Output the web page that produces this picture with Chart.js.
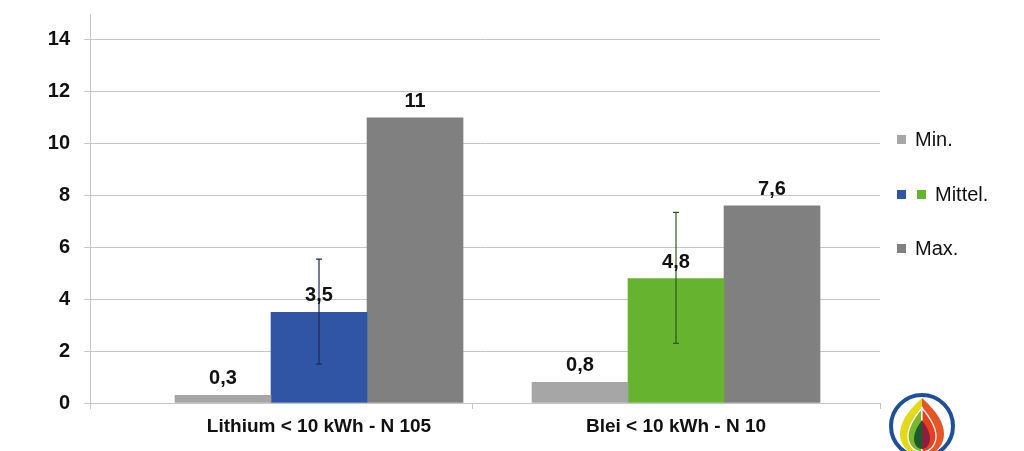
<!DOCTYPE html>
<html>
<head>
<meta charset="utf-8">
<script src="https://cdn.jsdelivr.net/npm/chart.js@4"></script>
<style>
  html, body { margin: 0; padding: 0; background: #fff; }
  #wrap { position: relative; width: 1024px; height: 451px; overflow: hidden; }
  #chart { position: absolute; left: 0; top: 0; }
  .lg { position: absolute; height: 24px; font: 20px "Liberation Sans", Arial, sans-serif; color: #111; display: flex; align-items: center; }
  .lg i { display: inline-block; width: 9px; height: 9px; margin-right: 9px; }
  .lg i.first { margin-right: 11px; }
  #logo { position: absolute; left: 888px; top: 392px; }
</style>
</head>
<body>
<div id="wrap">
  <canvas id="chart" width="1024" height="451"></canvas>
  <div class="lg" style="left:897px;top:127px"><i style="background:#A6A6A6"></i>Min.</div>
  <div class="lg" style="left:897px;top:182px"><i class="first" style="background:#2F55A4"></i><i style="background:#65B32E"></i>Mittel.</div>
  <div class="lg" style="left:897px;top:236px"><i style="background:#808080"></i>Max.</div>
  <svg id="logo" width="68" height="68" viewBox="0 0 68 68">
    <circle cx="34" cy="34" r="31" fill="#fff" stroke="#1F4E9A" stroke-width="4"/>
    <path d="M34 6 C18 20 12 32 12 42 C12 54 22 64 34 64 Z" fill="#E4D81C"/>
    <path d="M34 6 C50 20 56 32 56 42 C56 54 46 64 34 64 Z" fill="#E2572A"/>
    <path d="M34 16 C24 28 20 36 20 44 C20 54 27 60 34 60 Z" fill="#7BB630" stroke="#fff" stroke-width="1.2"/>
    <path d="M34 16 C44 28 48 36 48 44 C48 54 41 60 34 60 Z" fill="#E8401E" stroke="#fff" stroke-width="1.2"/>
    <path d="M34 28 C28 36 26 42 26 47 C26 53 30 57 34 57 Z" fill="#1E5B2A"/>
    <path d="M34 28 C40 36 42 42 42 47 C42 53 38 57 34 57 Z" fill="#8A2040"/>
  </svg>
</div>
<script>
const categories = ['Lithium < 10 kWh - N 105', 'Blei < 10 kWh - N 10'];
const catPositions = [1, 2];
const minValues = [0.3, 0.8];
const meanValues = [3.5, 4.8];
const maxValues = [11, 7.6];
const meanErrLow = [1.5, 2.3];
const meanErrHigh = [5.55, 7.35];
const valueLabels = [['0,3', '0,8'], ['3,5', '4,8'], ['11', '7,6']];
const yTicks = [0, 2, 4, 6, 8, 10, 12, 14];

// x extent and the divider mark between the two groups
const X_MIN = 0.3585, X_MAX = 2.5714, X_DIV = 1.4286;

const FONT = '"Liberation Sans", Arial, sans-serif';
const GRID = '#C6C6C6';

const pts = vals => vals.map((v, i) => ({ x: catPositions[i], y: v }));

// error bars on the "Mittel." series
const errorBars = {
  id: 'errorBars',
  afterDatasetsDraw(chart) {
    const { ctx } = chart;
    const y = chart.scales.y;
    const meta = chart.getDatasetMeta(1);
    const colors = ['#1B2A55', '#2E5A1A'];
    meta.data.forEach((bar, i) => {
      const yl = y.getPixelForValue(meanErrLow[i]);
      const yh = y.getPixelForValue(meanErrHigh[i]);
      ctx.save();
      ctx.strokeStyle = colors[i];
      ctx.lineWidth = 1.2;
      ctx.beginPath();
      ctx.moveTo(bar.x, yl); ctx.lineTo(bar.x, yh);
      ctx.moveTo(bar.x - 3, yl); ctx.lineTo(bar.x + 3, yl);
      ctx.moveTo(bar.x - 3, yh); ctx.lineTo(bar.x + 3, yh);
      ctx.stroke();
      ctx.restore();
    });
  }
};

// value labels above bars
const barLabels = {
  id: 'barLabels',
  afterDatasetsDraw(chart) {
    const { ctx } = chart;
    chart.data.datasets.forEach((ds, di) => {
      chart.getDatasetMeta(di).data.forEach((bar, i) => {
        ctx.save();
        ctx.font = 'bold 20px ' + FONT;
        ctx.fillStyle = '#111';
        ctx.textAlign = 'center';
        ctx.textBaseline = 'alphabetic';
        ctx.fillText(valueLabels[di][i], bar.x, bar.y - 11);
        ctx.restore();
      });
    });
  }
};

new Chart(document.getElementById('chart'), {
  type: 'bar',
  data: {
    datasets: [
      { label: 'Min.', data: pts(minValues), backgroundColor: '#A6A6A6' },
      { label: 'Mittel.', data: pts(meanValues), backgroundColor: ['#2F55A4', '#65B32E'] },
      { label: 'Max.', data: pts(maxValues), backgroundColor: '#808080' }
    ]
  },
  options: {
    responsive: false,
    animation: false,
    layout: { padding: { top: 14, right: 144, left: 0, bottom: 0 } },
    datasets: { bar: { barThickness: 96 } },
    plugins: { legend: { display: false }, tooltip: { enabled: false } },
    scales: {
      x: {
        type: 'linear',
        offset: false,
        min: X_MIN, max: X_MAX,
        afterBuildTicks: s => {
          s.ticks = [X_MIN, catPositions[0], X_DIV, catPositions[1], X_MAX].map(v => ({ value: v }));
        },
        grid: {
          offset: false, drawOnChartArea: false, tickLength: 6,
          color: c => catPositions.includes(c.tick && c.tick.value) ? 'rgba(0,0,0,0)' : GRID
        },
        border: { color: GRID },
        ticks: {
          color: '#111', font: { family: FONT, size: 19, weight: 'bold' }, padding: 6,
          autoSkip: false, maxRotation: 0,
          callback: v => { const i = catPositions.indexOf(v); return i >= 0 ? categories[i] : ''; }
        },
        afterFit: s => { s.height = 48; s.paddingLeft = 0; s.paddingRight = 0; }
      },
      y: {
        min: 0, max: 15,
        afterBuildTicks: s => { s.ticks = yTicks.map(v => ({ value: v })); },
        grid: { color: GRID, tickLength: 6 },
        border: { color: GRID },
        ticks: { color: '#111', font: { family: FONT, size: 20, weight: 'bold' }, padding: 14 },
        afterFit: s => { s.width = 90; s.paddingTop = 0; s.paddingBottom = 0; }
      }
    }
  },
  plugins: [errorBars, barLabels]
});
</script>
</body>
</html>
